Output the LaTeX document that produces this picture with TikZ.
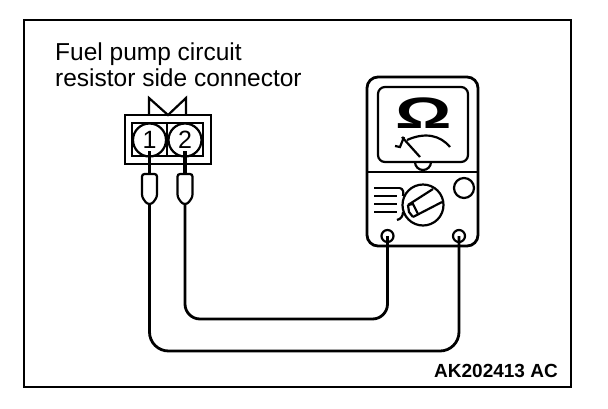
\documentclass[tikz,border=0pt]{standalone}
\usepackage{fontspec}
\setmainfont{Liberation Sans}
\usepackage{tikz}
\usetikzlibrary{positioning, calc}

\tikzset{
  line/.style={line width=2.2pt, black},
  wire/.style={line width=2.8pt, black},
  pin/.style={draw, circle, line width=2.2pt, minimum size=33pt, inner sep=0pt, font=\fontsize{25}{25}\selectfont},
  terminal/.style={draw, circle, line width=2.2pt, fill=white, minimum size=12pt, inner sep=0pt},
  caption/.style={align=left, inner sep=0pt, font=\fontsize{24.5}{26}\selectfont}
}

\begin{document}
\begin{tikzpicture}[x=1pt, y=-1pt]
        \useasboundingbox (0,0) rectangle (608,408);
        \draw[line width=2.6pt] (24,20) rectangle (571,387);

        \node[caption, anchor=north west] (title) at (55,42.5) {Fuel pump circuit\\resistor side connector};
        \node[anchor=base east, inner sep=0pt, font=\bfseries\fontsize{19}{20}\selectfont] (code) at (558,377) {AK202413 AC};

        % connector
        \draw[line] (149,115) -- (149,98) -- (168,115) -- (186,98) -- (186,115);
        \draw[line width=2.8pt] (125,115) rectangle (211,164);
        \draw[line] (132,123) rectangle (203,156);
        \draw[line] (167,123) -- (167,156);
        \foreach \n/\x in {1/149.5,2/185} {
          \node[pin] (pin\n) at (\x,140) {\n};
          \coordinate (tip\n) at (\x,204);
          \draw[line, rounded corners=2.5pt] (\x-7.5,197) -- (\x-7.5,174) -- (\x+7.5,174) -- (\x+7.5,197) -- (\x+2.5,204) -- (\x-2.5,204) -- cycle;
          \draw[line width=3.4pt] (\x,151) -- (\x,174);
        }

        % tester
        \draw[line width=2.8pt, rounded corners=11pt] (367,77) rectangle (478,246);
        \draw[line, rounded corners=7pt] (378,87) rectangle (468,162);
        \draw[line] (367,172) -- (478,172);
        \node[inner sep=0pt, xscale=1.6, font=\bfseries\fontsize{44}{44}\selectfont] (ohm) at (423.5,113.5) {Ω};
        \draw[line] (415,162) arc[start angle=180, end angle=0, radius=8];
        \draw[line] (407,140) .. controls (425,132) and (440,135) .. (450,147);
        \draw[line] (402,137) -- (420,157);
        \draw[line] (395,146) -- (400,147) -- (404,137);

        \draw[line] (374,188) -- (400,188) (374,196) -- (397,196) (374,204) -- (397,204) (374,212) -- (397,212);
        \draw[line] (400,188) .. controls (403,189) and (404,192) .. (403,196);
        \draw[line] (397,220) .. controls (401,219) and (403,216) .. (403,212);
        \node[draw, circle, line width=2.2pt, minimum size=41pt, inner sep=0pt] (dial) at (423,205) {};
        \draw[line] (408,205) -- (433,189) (413,217) -- (442,202);
        \draw[line] (408,205) -- (413,204) -- (418,214) (408,205) -- (409,212) -- (413,217);
        \node[draw, circle, line width=2.2pt, minimum size=20pt, inner sep=0pt] (button) at (464,188) {};
        \node[terminal] (termA) at (387.5,236) {};
        \node[terminal] (termB) at (459,236) {};

        % leads
        \coordinate (bendA) at (387.5,319);
        \coordinate (bendB) at (459,351);
        \draw[wire, rounded corners=15pt] (tip2) |- (bendA) -- (termA.center);
        \draw[wire, rounded corners=19pt] (tip1) |- (bendB) -- (termB.center);
      \end{tikzpicture}
\end{document}
